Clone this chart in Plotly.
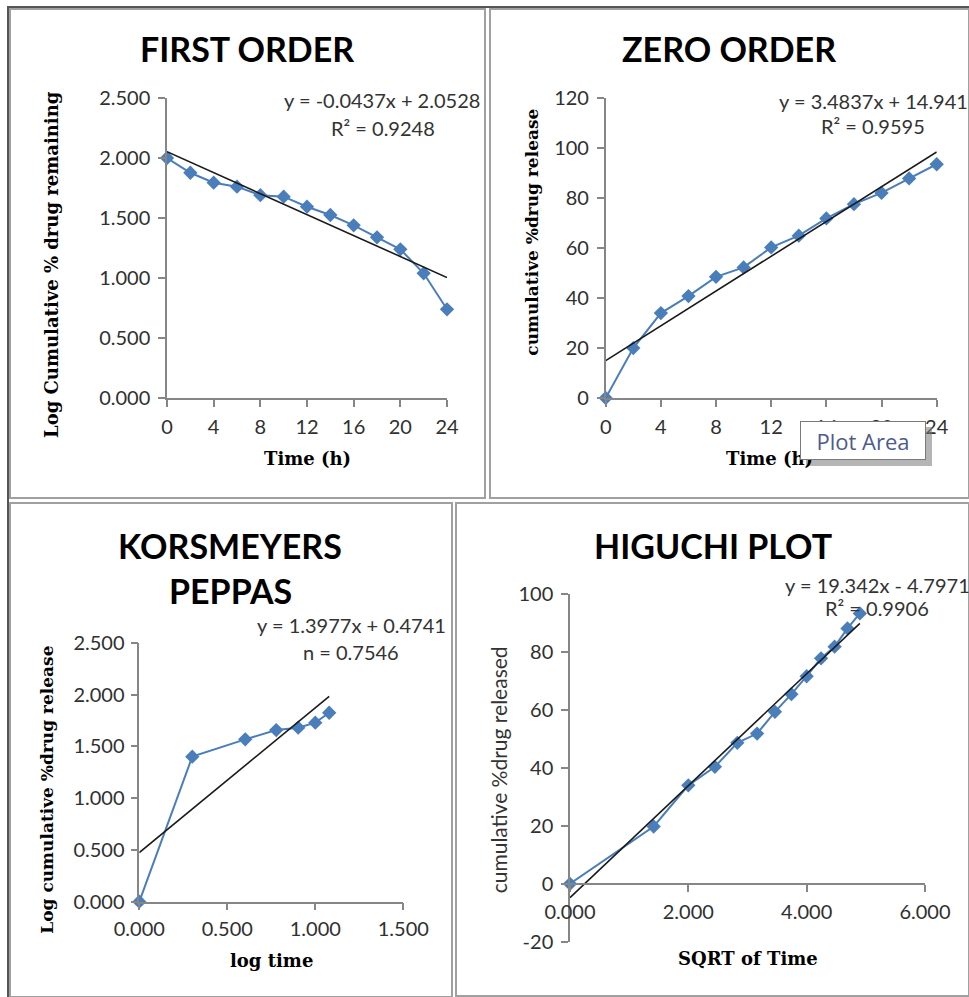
import plotly.graph_objects as go

# ---- data -------------------------------------------------------------
time_h = [0, 2, 4, 6, 8, 10, 12, 14, 16, 18, 20, 22, 24]

# first order: log cumulative % drug remaining
log_remaining = [2.000, 1.877, 1.794, 1.761, 1.690, 1.678, 1.594, 1.525, 1.439, 1.339, 1.239, 1.039, 0.739]

# zero order: cumulative % drug release
cum_release = [0, 20.0, 34.0, 40.8, 48.5, 52.3, 60.3, 65.0, 71.9, 77.6, 82.1, 87.9, 93.6]

# Korsmeyer-Peppas: log time vs log cumulative % drug release
log_time = [0.000, 0.301, 0.602, 0.778, 0.903, 1.000, 1.079]
log_release = [0.000, 1.400, 1.567, 1.657, 1.680, 1.728, 1.824]

# Higuchi: square root of time vs cumulative % drug released
sqrt_time = [0.000, 1.414, 2.000, 2.449, 2.828, 3.162, 3.464, 3.742, 4.000, 4.243, 4.472, 4.690, 4.899]
higuchi_release = [0, 19.8, 34.0, 40.4, 48.7, 51.9, 59.4, 65.5, 71.7, 77.9, 81.9, 88.2, 93.4]

# tick labels for the Higuchi y axis (plain hyphen for the negative value)
higuchi_yticks = [-20, 0, 20, 40, 60, 80, 100]
higuchi_ytext = ["-20", "0", "20", "40", "60", "80", "100"]

# linear fits (slope, intercept) as reported on each chart
fit_first = (-0.0437, 2.0528)
fit_zero = (3.4837, 14.941)
fit_kp = (1.3977, 0.4741)
fit_hig = (19.342, -4.7971)

# ---- page geometry helpers -------------------------------------------
W, H = 969, 997


def fx(px):
    return min(max(px / W, 0.0), 1.0)


def fy(py):
    return min(max(1 - py / H, 0.0), 1.0)


BLUE = "#4A7EBB"
AXIS = "#868686"
TICK_FONT = dict(family="Lato", size=20, color="#303030")
SERIF = "DejaVu Serif"

fig = go.Figure()


def add_panel(n, xs, ys, fit):
    xa = "x" if n == 1 else f"x{n}"
    ya = "y" if n == 1 else f"y{n}"
    fig.add_trace(go.Scatter(
        x=xs, y=ys, mode="lines+markers", xaxis=xa, yaxis=ya,
        line=dict(color=BLUE, width=2),
        marker=dict(symbol="diamond", size=11, color=BLUE),
        cliponaxis=False, showlegend=False, hoverinfo="skip"))
    x0, x1 = min(xs), max(xs)
    m, b = fit
    fig.add_trace(go.Scatter(
        x=[x0, x1], y=[m * x0 + b, m * x1 + b], mode="lines",
        xaxis=xa, yaxis=ya, line=dict(color="#1a1a1a", width=1.6),
        cliponaxis=False, showlegend=False, hoverinfo="skip"))


add_panel(1, time_h, log_remaining, fit_first)
add_panel(2, time_h, cum_release, fit_zero)
add_panel(3, log_time, log_release, fit_kp)
add_panel(4, sqrt_time, higuchi_release, fit_hig)

axis_common = dict(showgrid=False, zeroline=False, showline=True, linecolor=AXIS,
                   linewidth=1.5, ticks="outside", ticklen=7, tickcolor=AXIS,
                   tickwidth=1.5, tickfont=TICK_FONT, fixedrange=True, automargin=False)

p4_zero = fy(941.7 - (941.7 - 594.3) * 20 / 120)

fig.update_layout(
    template="none",
    width=W, height=H, margin=dict(l=0, r=0, t=0, b=0, pad=0, autoexpand=False),
    paper_bgcolor="white", plot_bgcolor="white",
    xaxis=dict(domain=[fx(167), fx(447)], range=[0, 24], tickvals=[0, 4, 8, 12, 16, 20, 24],
               anchor="y", ticklabelstandoff=3, **axis_common),
    yaxis=dict(domain=[fy(398), fy(98)], range=[0, 2.5], dtick=0.5, tickformat=".3f",
               anchor="x", ticklabelstandoff=4, **axis_common),
    xaxis2=dict(domain=[fx(605.7), fx(936.7)], range=[0, 24], tickvals=[0, 4, 8, 12, 16, 20, 24],
                anchor="y2", ticklabelstandoff=3, **axis_common),
    yaxis2=dict(domain=[fy(398), fy(98.3)], range=[0, 120], dtick=20,
                anchor="x2", ticklabelstandoff=4, **axis_common),
    xaxis3=dict(domain=[fx(139.3), fx(403.3)], range=[0, 1.5], dtick=0.5, tickformat=".3f",
                anchor="y3", ticklabelstandoff=2, **axis_common),
    yaxis3=dict(domain=[fy(901.7), fy(642.7)], range=[0, 2.5], dtick=0.5, tickformat=".3f",
                anchor="x3", ticklabelstandoff=2, **axis_common),
    xaxis4=dict(domain=[fx(570), fx(925)], range=[0, 6], dtick=2, tickformat=".3f",
                anchor="free", position=p4_zero, ticklabelstandoff=3, **axis_common),
    yaxis4=dict(domain=[fy(941.7), fy(594.3)], range=[-20, 100],
                tickvals=higuchi_yticks, ticktext=higuchi_ytext,
                anchor="x4", ticklabelstandoff=4, **axis_common),
)

annotations = []


def text(x, y, s, size, family="Lato", bold=False, color="black", angle=0, xanchor="center"):
    if bold:
        s = f"<b>{s}</b>"
    annotations.append(dict(x=fx(x), y=fy(y), xref="paper", yref="paper", text=s,
                            showarrow=False, textangle=angle, xanchor=xanchor, yanchor="middle",
                            font=dict(family=family, size=size, color=color)))


# chart titles
text(246.7, 48, "FIRST ORDER", 34, bold=True)
text(729, 48, "ZERO ORDER", 34, bold=True)
text(230, 545, "KORSMEYERS", 34, bold=True)
text(230, 590, "PEPPAS", 34, bold=True)
text(713, 545, "HIGUCHI PLOT", 34, bold=True)

# regression labels
EQ = dict(size=20, color="#333333")
text(281.7, 100, "y = -0.0437x + 2.0528", xanchor="left", **EQ)
text(382.5, 128, "R² = 0.9248", **EQ)
text(776.7, 101, "y = 3.4837x + 14.941", xanchor="left", **EQ)
text(873, 126, "R² = 0.9595", **EQ)
text(255, 625, "y = 1.3977x + 0.4741", xanchor="left", **EQ)
text(351, 652, "n = 0.7546", **EQ)
text(783, 585, "y = 19.342x - 4.7971", xanchor="left", **EQ)
text(876.5, 608, "R² = 0.9906", **EQ)

# axis titles
text(307.5, 458, "Time (h)", 18, family=SERIF, bold=True)
text(52, 265, "Log Cumulative % drug remaining", 18, family=SERIF, bold=True, angle=-90)
text(769, 458, "Time (h)", 18, family=SERIF, bold=True)
text(531.7, 232, "cumulative %drug release", 17, family=SERIF, bold=True, angle=-90)
text(271, 960, "log time", 18, family=SERIF, bold=True)
text(46.7, 790, "Log cumulative %drug release", 17, family=SERIF, bold=True, angle=-90)
text(747.5, 958, "SQRT of Time", 18, family=SERIF, bold=True)
text(498.3, 770, "cumulative %drug released", 21, color="#333333", angle=-90)

# "Plot Area" hover box over the zero-order chart
annotations.append(dict(x=fx(863), y=fy(440.5), xref="paper", yref="paper",
                        text="Plot Area", showarrow=False, width=124, height=37,
                        bgcolor="white", bordercolor="#7a7a7a", borderwidth=1, borderpad=0,
                        xanchor="center", yanchor="middle",
                        font=dict(family="Open Sans", size=22, color="#4f5a8c")))

fig.update_layout(annotations=annotations)

# chart frames
shapes = []


def rect(x0, y0, x1, y1, color="#a0a0a0", width=2, fill=None):
    shapes.append(dict(type="rect", xref="paper", yref="paper",
                       x0=fx(x0), y0=fy(y1), x1=fx(x1), y1=fy(y0),
                       line=dict(color=color, width=width),
                       fillcolor=fill, layer="below" if fill is None else "above"))


rect(10, 9, 485, 498)
rect(490, 9, 975, 498)
rect(10, 503, 452, 1003)
rect(456, 503, 975, 996)
# outer edge of the sheet
shapes.append(dict(type="line", xref="paper", yref="paper", x0=fx(7), x1=fx(975),
                   y0=fy(7), y1=fy(7), line=dict(color="#555555", width=2)))
shapes.append(dict(type="line", xref="paper", yref="paper", x0=fx(8), x1=fx(8),
                   y0=fy(7), y1=fy(1003), line=dict(color="#555555", width=2)))
# drop shadow under the hover box
shapes.append(dict(type="rect", xref="paper", yref="paper", x0=fx(806), x1=fx(932),
                   y0=fy(466), y1=fy(427), line=dict(width=0),
                   fillcolor="rgba(120,120,120,0.55)", layer="above"))
fig.update_layout(shapes=shapes)

fig.write_html("out.html")
